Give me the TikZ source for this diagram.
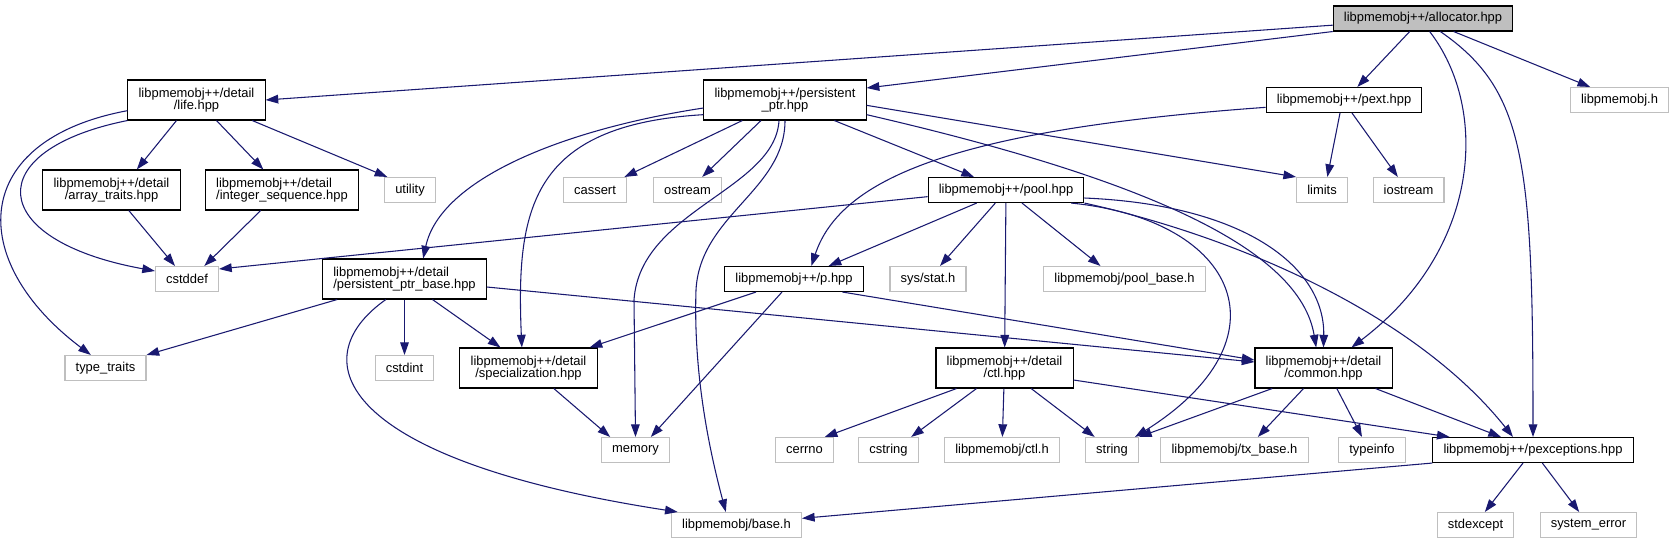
\documentclass[tikz,border=0pt]{standalone}
\usepackage{fontspec}
\setmainfont{Liberation Sans}
\usetikzlibrary{arrows.meta}

\definecolor{edgeblue}{HTML}{191970}
\definecolor{sysgray}{HTML}{BFBFBF}

\begin{document}
\begin{tikzpicture}[
    x=0.75pt, y=-0.75pt,
    >={Triangle[length=9.5pt,width=6.5pt]},
    header/.style={rectangle, draw=black, fill=white, line width=0.8pt, font=\fontsize{9.7}{9.5}\selectfont, inner xsep=8pt, inner ysep=1pt, minimum height=18.75pt},
    twoline/.style={header, minimum height=30pt, align=center},
    sysheader/.style={header, draw=sysgray},
    root/.style={header, fill=sysgray},
    dep/.style={edgeblue, ->, line width=0.8pt}
]

\useasboundingbox[fill=white] (0,0) rectangle (1674,544);

% -------- Row levels --------
\def\rowA{18.5}
\def\rowB{100}
\def\rowC{190}
\def\rowD{279}
\def\rowE{368}
\def\rowF{450}
\def\rowG{525}

% -------- Headers --------
\node[root] (alloc) at (1423,\rowA) {libpmemobj++/allocator.hpp};

\node[twoline] (life) at (196.5,\rowB) {libpmemobj++/detail\\/life.hpp};
\node[twoline] (pptr) at (785,\rowB) {libpmemobj++/persistent\\\_ptr.hpp};
\node[header] (pext) at (1344,\rowB) {libpmemobj++/pext.hpp};
\node[sysheader] (pmemobjh) at (1619.5,\rowB) {libpmemobj.h};

\node[twoline] (arraytr) at (111.5,\rowC) {libpmemobj++/detail\\/array\_traits.hpp};
\node[twoline, align=left] (intseq) at (282,\rowC) {libpmemobj++/detail\\/integer\_sequence.hpp};
\node[sysheader] (utility) at (410,\rowC) {utility};
\node[sysheader] (cassert) at (595,\rowC) {cassert};
\node[sysheader] (ostream) at (687.5,\rowC) {ostream};
\node[header] (pool) at (1006,\rowC) {libpmemobj++/pool.hpp};
\node[sysheader] (limits) at (1322,\rowC) {limits};
\node[sysheader] (iostream) at (1408.5,\rowC) {iostream};

\node[sysheader] (cstddef) at (187,\rowD) {cstddef};
\node[twoline, align=left] (ptrbase) at (404.5,\rowD) {libpmemobj++/detail\\/persistent\_ptr\_base.hpp};
\node[header] (phpp) at (794,\rowD) {libpmemobj++/p.hpp};
\node[sysheader] (sysstat) at (928,\rowD) {sys/stat.h};
\node[sysheader] (poolbase) at (1124.5,\rowD) {libpmemobj/pool\_base.h};

\node[sysheader] (typetr) at (105.5,\rowE) {type\_traits};
\node[sysheader] (cstdint) at (404.5,\rowE) {cstdint};
\node[twoline] (spec) at (528.5,\rowE) {libpmemobj++/detail\\/specialization.hpp};
\node[twoline] (ctl) at (1004.5,\rowE) {libpmemobj++/detail\\/ctl.hpp};
\node[twoline] (common) at (1323.5,\rowE) {libpmemobj++/detail\\/common.hpp};

\node[sysheader] (memory) at (635.5,\rowF) {memory};
\node[sysheader] (cerrno) at (804.5,\rowF) {cerrno};
\node[sysheader] (cstring) at (888.5,\rowF) {cstring};
\node[sysheader] (ctlh) at (1002,\rowF) {libpmemobj/ctl.h};
\node[sysheader] (string) at (1112,\rowF) {string};
\node[sysheader] (txbase) at (1234.5,\rowF) {libpmemobj/tx\_base.h};
\node[sysheader] (typeinfo) at (1372,\rowF) {typeinfo};
\node[header] (pexc) at (1533,\rowF) {libpmemobj++/pexceptions.hpp};

\node[sysheader] (baseh) at (736.5,\rowG) {libpmemobj/base.h};
\node[sysheader] (stdexcept) at (1475.5,\rowG) {stdexcept};
\node[sysheader] (syserr) at (1588.5,\rowG) {system\_error};

% -------- allocator.hpp --------
\draw[dep] ([yshift=-5pt]alloc.west) -- (life.east);
\draw[dep] (alloc.south west) -- ([yshift=9pt]pptr.east);
\draw[dep] ([xshift=-10pt]alloc.south) -- ([xshift=10pt]pext.north);
\draw[dep] ([xshift=23pt]alloc.south) -- ([xshift=-22pt]pmemobjh.north);
\draw[dep] ([xshift=5pt]alloc.south) .. controls (1490,110) and (1480,250) .. ([xshift=21pt]common.north);
\draw[dep] ([xshift=13pt]alloc.south) .. controls (1525,90) and (1533,160) .. (pexc.north);

% -------- life.hpp --------
\draw[dep] ([xshift=-15pt]life.south) -- ([xshift=19pt]arraytr.north);
\draw[dep] ([xshift=15pt]life.south) -- ([xshift=-14pt]intseq.north);
\draw[dep] ([xshift=-10pt]life.south east) -- ([xshift=-17pt]utility.north);
\draw[dep] (life.south west) .. controls (-20,150) and (-15,240) .. ([yshift=6pt]cstddef.west);
\draw[dep] ([yshift=-8pt]life.west) .. controls (-30,140) and (-35,260) .. ([xshift=-11pt]typetr.north);

\draw[dep] ([xshift=13pt]arraytr.south) -- ([xshift=-9pt]cstddef.north);
\draw[dep] ([xshift=-16pt]intseq.south) -- ([xshift=13pt]cstddef.north);

% -------- persistent_ptr.hpp --------
\draw[dep] ([xshift=-32pt]pptr.south) -- ([xshift=22pt]cassert.north);
\draw[dep] ([xshift=-18pt]pptr.south) -- ([xshift=11pt]ostream.north);
\draw[dep] ([xshift=37pt]pptr.south) -- ([xshift=-24pt]pool.north);
\draw[dep] ([yshift=-6pt]pptr.west) .. controls (560,130) and (440,180) .. ([xshift=14pt]ptrbase.north);
\draw[dep] ([yshift=-11pt]pptr.west) .. controls (530,125) and (516,210) .. ([xshift=-5pt]spec.north);
\draw[dep] ([xshift=-4.5pt]pptr.south) .. controls (775,190) and (640,210) .. (634,300) -- (memory.north);
\draw[dep] (pptr.south) .. controls (785,190) and (700,215) .. (696,290) .. controls (693,380) and (712,460) .. ([xshift=-8pt]baseh.north);
\draw[dep] ([yshift=-4pt]pptr.east) -- (limits.north west);
\draw[dep] ([yshift=-11pt]pptr.east) .. controls (1150,180) and (1300,250) .. ([xshift=-5.5pt]common.north);

% -------- pext.hpp --------
\draw[dep] ([yshift=-5.5pt]pext.west) .. controls (950,130) and (840,180) .. ([xshift=13pt]phpp.north);
\draw[dep] ([xshift=-3pt]pext.south) -- ([xshift=4pt]limits.north);
\draw[dep] ([xshift=6pt]pext.south) -- ([xshift=-8pt]iostream.north);

% -------- pool.hpp --------
\draw[dep] ([yshift=-5pt]pool.west) -- ([yshift=7.5pt]cstddef.east);
\draw[dep] ([xshift=-22pt]pool.south) -- ([xshift=26pt]phpp.north);
\draw[dep] ([xshift=-8pt]pool.south) -- ([xshift=9pt]sysstat.north);
\draw[dep] (pool) -- (ctl);
\draw[dep] ([xshift=12pt]pool.south) -- ([xshift=-18pt]poolbase.north);
\draw[dep] ([xshift=-10pt]pool.south east) .. controls (1240,220) and (1290,340) .. ([xshift=-3pt]string.north east);
\draw[dep] ([yshift=-6pt]pool.east) .. controls (1250,205) and (1325,270) .. (common.north);
\draw[dep] (pool.south east) .. controls (1250,240) and (1420,320) .. ([xshift=-15pt]pexc.north);

% -------- p.hpp --------
\draw[dep] ([xshift=-28.5pt]phpp.south) -- ([xshift=-6pt]spec.north east);
\draw[dep] ([xshift=-9pt]phpp.south) -- ([xshift=11.5pt]memory.north);
\draw[dep] ([xshift=-16pt]phpp.south east) -- ([yshift=6pt]common.west);

% -------- persistent_ptr_base.hpp --------
\draw[dep] ([xshift=-50.5pt]ptrbase.south) -- (typetr.north east);
\draw[dep] (ptrbase) -- (cstdint);
\draw[dep] ([xshift=21pt]ptrbase.south) -- ([xshift=-21pt]spec.north);
\draw[dep] ([xshift=-14pt]ptrbase.south) .. controls (300,360) and (340,460) .. ([xshift=5pt]baseh.north west);
\draw[dep] ([yshift=-6pt]ptrbase.east) -- ([yshift=4.5pt]common.west);

\draw[dep] ([xshift=19pt]spec.south) -- ([xshift=-19pt]memory.north);

% -------- ctl.hpp --------
\draw[dep] ([xshift=-36pt]ctl.south) -- ([xshift=-7pt]cerrno.north east);
\draw[dep] ([xshift=-21pt]ctl.south) -- ([xshift=17pt]cstring.north);
\draw[dep] (ctl) -- (ctlh);
\draw[dep] ([xshift=20pt]ctl.south) -- ([xshift=-13pt]string.north);
\draw[dep] ([yshift=-9pt]ctl.east) -- ([xshift=13pt]pexc.north west);

% -------- common.hpp --------
\draw[dep] ([xshift=-38.5pt]common.south) -- (string.north east);
\draw[dep] ([xshift=-15pt]common.south) -- ([xshift=17.5pt]txbase.north);
\draw[dep] ([xshift=10pt]common.south) -- ([xshift=-7.5pt]typeinfo.north);
\draw[dep] ([xshift=39pt]common.south) -- ([xshift=-24pt]pexc.north);

% -------- pexceptions.hpp --------
\draw[dep] (pexc.south west) -- ([yshift=5pt]baseh.east);
\draw[dep] ([xshift=-7.5pt]pexc.south) -- ([xshift=7pt]stdexcept.north);
\draw[dep] ([xshift=7pt]pexc.south) -- ([xshift=-7pt]syserr.north);

\end{tikzpicture}
\end{document}
